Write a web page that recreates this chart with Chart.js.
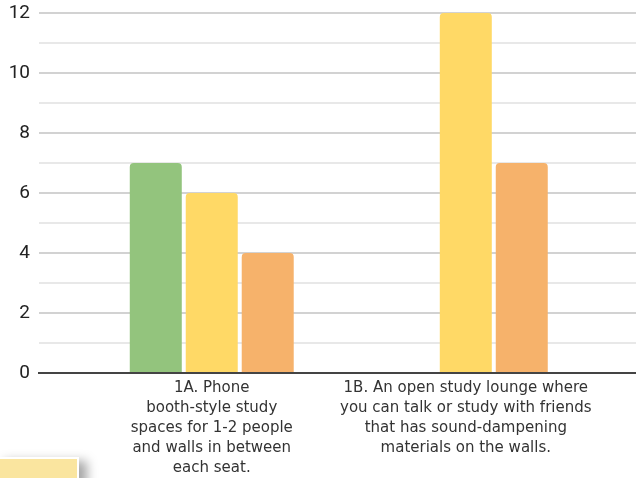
<!DOCTYPE html>
<html>
<head>
<meta charset="utf-8">
<script src="https://cdn.jsdelivr.net/npm/chart.js@4/dist/chart.umd.min.js"></script>
<style>
  html, body { margin: 0; padding: 0; background: #fff; }
  #wrap { position: relative; width: 636px; height: 478px; overflow: hidden; }
  #note {
    position: absolute; left: -4px; top: 457px; width: 79px; height: 30px;
    background: #fae59f; border: 2px solid #fff;
    box-shadow: 8px 4px 10px rgba(0,0,0,0.35);
  }
</style>
</head>
<body>
<div id="wrap">
  <canvas id="barChart" width="636" height="478"></canvas>
  <div id="note"></div>
</div>
<script>
// categorieen en waardes per kleur
var categories = [
    ['1A. Phone', 'booth-style study', 'spaces for 1-2 people', 'and walls in between', 'each seat.'],
    ['1B. An open study lounge where', 'you can talk or study with friends', 'that has sound-dampening', 'materials on the walls.']
];
var greenValues = [7, 0];
var yellowValues = [6, 12];
var orangeValues = [4, 7];
var yMax = 12;

function points(values) {
    return values.map(function (v, i) { return { x: i + 1, y: v }; });
}

var ctx = document.getElementById('barChart').getContext('2d');
var myChart = new Chart(ctx, {
    type: 'bar',
    data: {
        datasets: [{
            label: 'green',
            data: points(greenValues),
            backgroundColor: '#93c47d',
            borderRadius: 4
        }, {
            label: 'yellow',
            data: points(yellowValues),
            backgroundColor: '#ffd966',
            borderRadius: 4
        }, {
            label: 'orange',
            data: points(orangeValues),
            backgroundColor: '#f6b26b',
            borderRadius: 4
        }]
    },
    options: {
        responsive: false,
        animation: false,
        categoryPercentage: 0.661,
        barPercentage: 0.929,
        layout: { padding: { top: 13, right: 0, left: 0, bottom: 0 } },
        plugins: {
            legend: { display: false },
            tooltip: { enabled: false }
        },
        scales: {
            x: {
                type: 'linear',
                offset: false,
                min: 0.32,
                max: 2.67,
                afterBuildTicks: function (scale) {
                    scale.ticks = categories.map(function (c, i) { return { value: i + 1 }; });
                },
                afterFit: function (scale) { scale.height = 105; },
                ticks: {
                    callback: function (v) { return categories[v - 1]; },
                    color: '#333',
                    font: { family: 'DejaVu Sans', size: 15, lineHeight: 1.33 },
                    padding: 5,
                    maxRotation: 0,
                    autoSkip: false
                },
                grid: { display: false, drawTicks: false, offset: false },
                border: { display: true, color: '#444', width: 2 }
            },
            y: {
                min: 0,
                max: yMax,
                afterFit: function (scale) {
                    scale.width = 39;
                    scale.paddingTop = 0;
                },
                ticks: {
                    stepSize: 1,
                    callback: function (v) { return v % 2 === 0 ? v : ''; },
                    color: '#222',
                    font: { family: 'Liberation Sans Narrow, Roboto', size: 19 },
                    padding: 9
                },
                grid: {
                    drawTicks: false,
                    lineWidth: 2,
                    color: function (c) { return c.tick && c.tick.value % 2 === 0 ? '#d2d2d2' : '#e8e8e8'; }
                },
                border: { display: false }
            }
        }
    }
});
</script>
</body>
</html>
